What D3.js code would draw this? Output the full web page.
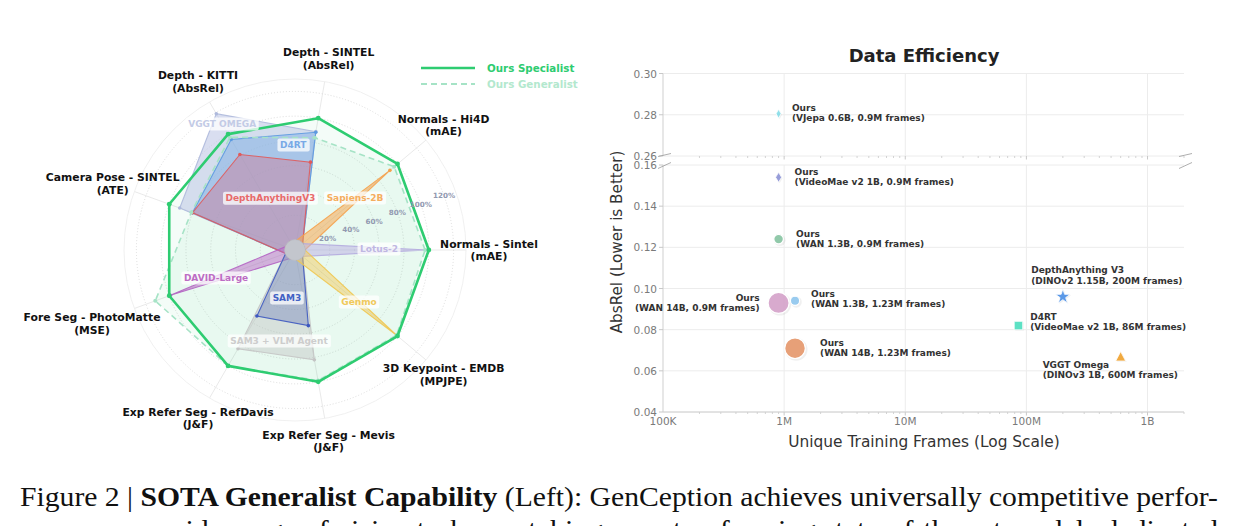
<!DOCTYPE html>
<html>
<head>
<meta charset="utf-8">
<script src="https://cdn.jsdelivr.net/npm/d3@7/dist/d3.min.js"></script>
<style>
  body { margin: 0; background: #fff; }
  svg { display: block; font-family: "DejaVu Sans", sans-serif; }
</style>
</head>
<body>
<div id="chart"></div>
<script>
// ---- radar data (normalised score, 1.0 = ours specialist) ----
var axisNames = ["Normals - Sintel", "Normals - Hi4D", "Depth - SINTEL", "Depth - KITTI",
  "Camera Pose - SINTEL", "Fore Seg - PhotoMatte", "Exp Refer Seg - RefDavis",
  "Exp Refer Seg - Mevis", "3D Keypoint - EMDB"];
var axisMetrics = ["(mAE)", "(mAE)", "(AbsRel)", "(AbsRel)", "(ATE)", "(MSE)", "(J&F)", "(J&F)", "(MPJPE)"];
var radialTicks = [0.2, 0.4, 0.6, 0.8, 1.0, 1.2];

var oursSpecialist = [1, 1, 1, 1, 1, 1, 1, 1, 1];
var oursGeneralist = [0.97, 0.965, 0.84, 0.97, 0.81, 1.12, 1.0, 0.99, 0.99];
var vggtOmega      = [0, 0, 0.89, 1.19, 0.91, 0, 0, 0, 0];
var d4rt           = [0, 0, 0.885, 0.95, 0.80, 0, 0, 0, 0];
var depthAnything  = [0, 0, 0.64, 0.81, 0.80, 0, 0, 0, 0];
var sapiens        = [0, 0.92, 0, 0, 0, 0, 0, 0, 0];
var lotus          = [0.99, 0, 0, 0, 0, 0, 0, 0, 0];
var davidLarge     = [0, 0, 0, 0, 0, 0.99, 0, 0, 0];
var sam3Agent      = [0, 0, 0, 0, 0, 0, 0.84, 0.82, 0];
var sam3           = [0, 0, 0, 0, 0, 0, 0.535, 0.54, 0];
var genmo          = [0, 0, 0, 0, 0, 0, 0, 0, 0.99];

// ---- scatter data ----
var pointNames   = ["Ours", "Ours", "Ours", "Ours", "Ours", "Ours", "DepthAnything V3", "D4RT", "VGGT Omega"];
var pointDetails = ["(VJepa 0.6B, 0.9M frames)", "(VideoMae v2 1B, 0.9M frames)", "(WAN 1.3B, 0.9M frames)",
  "(WAN 14B, 0.9M frames)", "(WAN 1.3B, 1.23M frames)", "(WAN 14B, 1.23M frames)",
  "(DINOv2 1.15B, 200M frames)", "(VideoMae v2 1B, 86M frames)", "(DINOv3 1B, 600M frames)"];
var pointFrames  = [0.9e6, 0.9e6, 0.9e6, 0.9e6, 1.23e6, 1.23e6, 200e6, 86e6, 600e6];
var pointAbsRel  = [0.2805, 0.154, 0.124, 0.093, 0.094, 0.071, 0.096, 0.082, 0.0667];
var xTickValues  = [1e5, 1e6, 1e7, 1e8, 1e9];
var xTickLabels  = ["100K", "1M", "10M", "100M", "1B"];
var yTicksTop    = [0.26, 0.28, 0.30];
var yTicksBottom = [0.04, 0.06, 0.08, 0.10, 0.12, 0.14, 0.16];

var width = 1238, height = 526;
var svg = d3.select('#chart').append('svg')
  .attr('width', width)
  .attr('height', height);

// ================= RADAR =================
var cx = 295, cy = 250;
var r = d3.scaleLinear().domain([-0.08, 1.3]).range([0, 171]);
var n = axisNames.length;
function theta(i) { return i * 2 * Math.PI / n; }
function pt(i, v) { return [cx + r(v) * Math.cos(theta(i)), cy - r(v) * Math.sin(theta(i))]; }
function polar(deg, v) { var a = deg * Math.PI / 180; return [cx + r(v) * Math.cos(a), cy - r(v) * Math.sin(a)]; }

var radar = svg.append('g');

radar.selectAll('.spoke').data(axisNames).enter().append('line')
  .attr('x1', cx).attr('y1', cy)
  .attr('x2', function(d, i) { return pt(i, 1.3)[0]; })
  .attr('y2', function(d, i) { return pt(i, 1.3)[1]; })
  .attr('stroke', '#e6e6e6').attr('stroke-width', 0.9);

radar.append('circle').attr('cx', cx).attr('cy', cy).attr('r', r(1.3))
  .attr('fill', 'none').attr('stroke', '#eeeeee').attr('stroke-width', 0.9);

radar.selectAll('.ring').data(radialTicks).enter().append('circle')
  .attr('cx', cx).attr('cy', cy).attr('r', function(d) { return r(d); })
  .attr('fill', 'none').attr('stroke', '#d8d8d8').attr('stroke-width', 0.9)
  .attr('stroke-dasharray', '1,2');

var line = d3.line().curve(d3.curveLinearClosed);
function polyPts(vals) { return vals.map(function(v, i) { return pt(i, v); }); }

var others = [
  { name: 'VGGT OMEGA', values: vggtOmega, color: '#aeb9dc', fill: '#b9c3e3', op: 0.55, text: '#c3cbe6', at: [120, 1.095] },
  { name: 'D4RT', values: d4rt, color: '#5c9ae0', fill: '#6da6e6', op: 0.4, text: '#78a9e6', at: [91, 0.767] },
  { name: 'DepthAnythingV3', values: depthAnything, color: '#e05a5a', fill: '#d9607a', op: 0.32, text: '#e86a6a', at: [115.4, 0.382] },
  { name: 'Sapiens-2B', values: sapiens, color: '#f5a24e', fill: '#f5a852', op: 0.55, text: '#f5ad5e', at: [40.9, 0.561] },
  { name: 'Lotus-2', values: lotus, color: '#b4abdf', fill: '#bdb4e3', op: 0.55, text: '#bfb7e2', at: [0.7, 0.598] },
  { name: 'DAVID-Large', values: davidLarge, color: '#b463c3', fill: '#b96ac6', op: 0.5, text: '#bd6cc4', at: [199.5, 0.596] },
  { name: 'SAM3 + VLM Agent', values: sam3Agent, color: '#c4c4c4', fill: '#bdbdbd', op: 0.4, text: '#cdcdcd', at: [260, 0.666] },
  { name: 'SAM3', values: sam3, color: '#3d58c0', fill: '#6878b8', op: 0.38, text: '#4262c4', at: [260.5, 0.313] },
  { name: 'Genmo', values: genmo, color: '#f0c650', fill: '#f1cc62', op: 0.5, text: '#f0c95c', at: [320.9, 0.586] }
];

// ours fills first
radar.append('path').attr('d', line(polyPts(oursSpecialist)))
  .attr('fill', '#2ecc71').attr('fill-opacity', 0.05).attr('stroke', 'none');
radar.append('path').attr('d', line(polyPts(oursGeneralist)))
  .attr('fill', '#2ecc71').attr('fill-opacity', 0.06).attr('stroke', 'none');

others.forEach(function(s) {
  radar.append('path').attr('d', line(polyPts(s.values)))
    .attr('fill', s.fill).attr('fill-opacity', s.op)
    .attr('stroke', s.color).attr('stroke-width', 1.1).attr('stroke-opacity', 0.9);
  s.values.forEach(function(v, i) {
    if (v > 0) {
      var p = pt(i, v);
      radar.append('circle').attr('cx', p[0]).attr('cy', p[1]).attr('r', 1.8).attr('fill', s.color);
    }
  });
});

// neutral hub where all zero scores meet
radar.append('circle').attr('cx', cx).attr('cy', cy).attr('r', r(0) + 0.5)
  .attr('fill', '#c3c6cd').attr('stroke', '#b9bcc4').attr('stroke-width', 0.6);

// generalist line
radar.append('path').attr('d', line(polyPts(oursGeneralist)))
  .attr('fill', 'none').attr('stroke', '#a6e3c6').attr('stroke-width', 1.6)
  .attr('stroke-dasharray', '6,4');
polyPts(oursGeneralist).forEach(function(p) {
  radar.append('circle').attr('cx', p[0]).attr('cy', p[1]).attr('r', 2).attr('fill', '#a6e3c6');
});
// specialist line
radar.append('path').attr('d', line(polyPts(oursSpecialist)))
  .attr('fill', 'none').attr('stroke', '#2ecc71').attr('stroke-width', 2.6)
  .attr('stroke-linejoin', 'round');
polyPts(oursSpecialist).forEach(function(p) {
  radar.append('circle').attr('cx', p[0]).attr('cy', p[1]).attr('r', 2.4).attr('fill', '#2ecc71');
});

// radial tick labels
radar.selectAll('.rtick').data(radialTicks).enter().append('text')
  .attr('x', function(d) { return polar(20, d)[0]; })
  .attr('y', function(d) { return polar(20, d)[1]; })
  .attr('text-anchor', 'middle').attr('dominant-baseline', 'central')
  .attr('font-size', 7.2).attr('font-weight', 'bold').attr('fill', '#9299b0')
  .text(function(d) { return Math.round(d * 100) + '%'; });

// series labels with white boxes
others.forEach(function(s) {
  var p = polar(s.at[0], s.at[1]);
  var g = radar.append('g');
  var t = g.append('text').attr('x', p[0]).attr('y', p[1])
    .attr('text-anchor', 'middle').attr('dominant-baseline', 'central')
    .attr('font-size', 9).attr('font-weight', 'bold').attr('fill', s.text)
    .text(s.name);
  var b = t.node().getBBox();
  g.insert('rect', 'text').attr('x', b.x - 2.5).attr('y', b.y - 1.5)
    .attr('width', b.width + 5).attr('height', b.height + 3).attr('rx', 2)
    .attr('fill', '#fff').attr('fill-opacity', 0.75);
});

// axis labels
var labelNudge = { 5: 22 };
axisNames.forEach(function(name, i) {
  var rr = 194 + (labelNudge[i] || 0);
  var x = cx + rr * Math.cos(theta(i)), y = cy - rr * Math.sin(theta(i));
  var t = radar.append('text').attr('text-anchor', 'middle')
    .attr('font-size', 10.8).attr('font-weight', 'bold').attr('fill', '#111');
  t.append('tspan').attr('x', x).attr('y', y - 2.5).text(name);
  t.append('tspan').attr('x', x).attr('y', y + 10).text(axisMetrics[i]);
});

// legend
var legend = svg.append('g');
legend.append('line').attr('x1', 421).attr('x2', 475).attr('y1', 68).attr('y2', 68)
  .attr('stroke', '#2ecc71').attr('stroke-width', 2.4);
legend.append('text').attr('x', 487).attr('y', 68).attr('dominant-baseline', 'central')
  .attr('font-size', 10.3).attr('font-weight', 'bold').attr('fill', '#2ecc71').text('Ours Specialist');
legend.append('line').attr('x1', 421).attr('x2', 475).attr('y1', 84).attr('y2', 84)
  .attr('stroke', '#a6e3c6').attr('stroke-width', 2).attr('stroke-dasharray', '6,4');
legend.append('text').attr('x', 487).attr('y', 84).attr('dominant-baseline', 'central')
  .attr('font-size', 10.3).attr('font-weight', 'bold').attr('fill', '#b3e8ce').text('Ours Generalist');

// ================= SCATTER =================
var x = d3.scaleLog().domain([1e5, 2e9]).range([663, 1184]);
var yTop = d3.scaleLinear().domain([0.26, 0.30]).range([156, 73.5]);
var yBot = d3.scaleLinear().domain([0.04, 0.16]).range([412, 165]);
var sc = svg.append('g');

var majors = xTickValues.slice(1);
var minors = x.ticks().filter(function(d) { return xTickValues.indexOf(d) < 0; });

[[yTop, yTicksTop], [yBot, yTicksBottom]].forEach(function(pair) {
  var y = pair[0], yr = y.range();
  sc.selectAll(null).data(majors).enter().append('line')
    .attr('x1', function(d) { return x(d); }).attr('x2', function(d) { return x(d); })
    .attr('y1', yr[0]).attr('y2', yr[1]).attr('stroke', '#ececec').attr('stroke-width', 1);
  sc.selectAll(null).data(pair[1]).enter().append('line')
    .attr('x1', 663).attr('x2', 1184)
    .attr('y1', function(d) { return y(d); }).attr('y2', function(d) { return y(d); })
    .attr('stroke', '#ececec').attr('stroke-width', 1);
  // left spine
  sc.append('line').attr('x1', 663).attr('x2', 663).attr('y1', yr[0]).attr('y2', yr[1])
    .attr('stroke', '#cfcfcf').attr('stroke-width', 1);
  // y ticks
  sc.selectAll(null).data(pair[1]).enter().append('line')
    .attr('x1', 659).attr('x2', 663)
    .attr('y1', function(d) { return y(d); }).attr('y2', function(d) { return y(d); })
    .attr('stroke', '#c8c8c8');
  sc.selectAll(null).data(pair[1]).enter().append('text')
    .attr('x', 657).attr('y', function(d) { return y(d); })
    .attr('text-anchor', 'end').attr('dominant-baseline', 'central')
    .attr('font-size', 10.5).attr('fill', '#7a7a7a')
    .text(function(d) { return d.toFixed(2); });
  // x tick marks under each panel
  sc.selectAll(null).data(majors).enter().append('line')
    .attr('x1', function(d) { return x(d); }).attr('x2', function(d) { return x(d); })
    .attr('y1', yr[0]).attr('y2', yr[0] + 3.5).attr('stroke', '#c8c8c8');
  sc.selectAll(null).data(minors).enter().append('line')
    .attr('x1', function(d) { return x(d); }).attr('x2', function(d) { return x(d); })
    .attr('y1', yr[0]).attr('y2', yr[0] + 2).attr('stroke', '#c8c8c8').attr('stroke-width', 0.8);
});
// bottom spine
sc.append('line').attr('x1', 663).attr('x2', 1184).attr('y1', 412).attr('y2', 412)
  .attr('stroke', '#cfcfcf').attr('stroke-width', 1.2);

// x tick labels
sc.selectAll(null).data(xTickValues).enter().append('text')
  .attr('x', function(d) { return x(d); }).attr('y', 421)
  .attr('text-anchor', 'middle').attr('dominant-baseline', 'central')
  .attr('font-size', 10.5).attr('fill', '#7a7a7a')
  .text(function(d, i) { return xTickLabels[i]; });

// break marks
[663, 1184].forEach(function(bx) {
  sc.append('line').attr('x1', bx - 5).attr('y1', 156.5).attr('x2', bx + 8).attr('y2', 153.5)
    .attr('stroke', '#999').attr('stroke-width', 0.8);
  sc.append('line').attr('x1', bx - 5).attr('y1', 168.5).attr('x2', bx + 8).attr('y2', 162.5)
    .attr('stroke', '#999').attr('stroke-width', 0.8);
});

// title & axis labels
svg.append('text').attr('x', 924).attr('y', 55).attr('text-anchor', 'middle')
  .attr('dominant-baseline', 'central').attr('font-size', 18).attr('font-weight', 'bold')
  .attr('fill', '#222').text('Data Efficiency');
svg.append('text').attr('x', 924).attr('y', 442).attr('text-anchor', 'middle')
  .attr('dominant-baseline', 'central').attr('font-size', 15.4).attr('fill', '#333')
  .text('Unique Training Frames (Log Scale)');
svg.append('text').attr('transform', 'translate(617,242) rotate(-90)').attr('text-anchor', 'middle')
  .attr('dominant-baseline', 'central').attr('font-size', 15.2).attr('fill', '#333')
  .text('AbsRel (Lower is Better)');

// markers
var markerStyle = [
  { shape: 'diamond', w: 5, h: 9, color: '#86dde8' },
  { shape: 'diamond', w: 6, h: 10, color: '#8d94d6' },
  { shape: 'circle', r: 4.8, color: '#86c4a2' },
  { shape: 'circle', r: 10.5, color: '#d5a2ca' },
  { shape: 'circle', r: 4.6, color: '#8fc6ee' },
  { shape: 'circle', r: 10.3, color: '#e5976a' },
  { shape: 'star', r: 5.5, color: '#4a8fe6' },
  { shape: 'square', r: 8.5, color: '#4cdfbf' },
  { shape: 'triangle', r: 10, color: '#f0a12c' }
];
var labelPos = [[13.3, -5.6, 'start'], [16, -5.4, 'start'], [17.5, -5.3, 'start'], [-19, -5, 'end'],
  [16, -6.7, 'start'], [25, -5.6, 'start'], [-31.7, -26.5, 'start'], [11.7, -8.4, 'start'], [-78, 7.7, 'start']];

function markerPath(m) {
  if (m.shape === 'diamond') return 'M0,' + (-m.h / 2) + 'L' + (m.w / 2) + ',0L0,' + (m.h / 2) + 'L' + (-m.w / 2) + ',0Z';
  if (m.shape === 'square') return 'M' + (-m.r / 2) + ',' + (-m.r / 2) + 'h' + m.r + 'v' + m.r + 'h' + (-m.r) + 'Z';
  if (m.shape === 'triangle') return 'M0,' + (-m.r * 0.55) + 'L' + (m.r / 2) + ',' + (m.r * 0.4) + 'L' + (-m.r / 2) + ',' + (m.r * 0.4) + 'Z';
  if (m.shape === 'star') return d3.symbol().type(d3.symbolStar).size(m.r * m.r * 2.2)();
  return null;
}

pointFrames.forEach(function(f, i) {
  var v = pointAbsRel[i];
  var yy = v > 0.2 ? yTop(v) : yBot(v);
  var xx = x(f);
  var m = markerStyle[i];
  var g = sc.append('g').attr('transform', 'translate(' + xx + ',' + yy + ')');
  if (m.shape === 'circle') {
    g.append('circle').attr('cx', 1.2).attr('cy', 1.2).attr('r', m.r + 1).attr('fill', '#000').attr('fill-opacity', 0.06);
    g.append('circle').attr('r', m.r).attr('fill', m.color).attr('fill-opacity', 0.9)
      .attr('stroke', '#fff').attr('stroke-width', 1.2);
  } else {
    g.append('path').attr('d', markerPath(m)).attr('transform', 'translate(1,1)')
      .attr('fill', '#000').attr('fill-opacity', 0.06);
    g.append('path').attr('d', markerPath(m)).attr('fill', m.color).attr('fill-opacity', 0.9)
      .attr('stroke', '#fff').attr('stroke-width', 0.8);
  }
  var lp = labelPos[i];
  var t = sc.append('text').attr('text-anchor', lp[2])
    .attr('font-size', 9).attr('font-weight', 'bold').attr('fill', '#333');
  t.append('tspan').attr('x', xx + lp[0]).attr('y', yy + lp[1]).attr('dominant-baseline', 'central').text(pointNames[i]);
  t.append('tspan').attr('x', xx + lp[0]).attr('y', yy + lp[1] + 10.3).attr('dominant-baseline', 'central').text(pointDetails[i]);
});

// ================= CAPTION =================
var cap = svg.append('g').attr('font-family', '"Liberation Serif", serif').attr('fill', '#111');
var c1 = cap.append('text').attr('x', 20).attr('y', 506).attr('font-size', 27)
  .attr('textLength', 1198).attr('lengthAdjust', 'spacingAndGlyphs');
c1.append('tspan').text('Figure 2 | ');
c1.append('tspan').attr('font-weight', 'bold').text('SOTA Generalist Capability');
c1.append('tspan').text(' (Left): GenCeption achieves universally competitive perfor-');
cap.append('text').attr('x', 20).attr('y', 539).attr('font-size', 27)
  .attr('textLength', 1198).attr('lengthAdjust', 'spacingAndGlyphs')
  .text('mance on a wide range of vision tasks, matching or outperforming state-of-the-art models dedicated');
</script>
</body>
</html>
